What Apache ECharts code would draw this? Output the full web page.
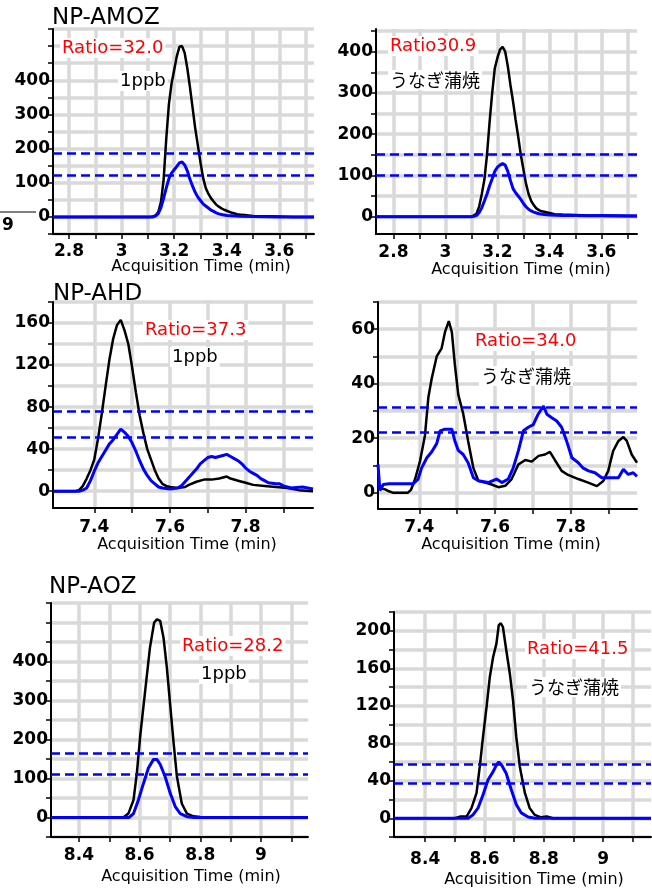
<!DOCTYPE html>
<html><head><meta charset="utf-8">
<script src="https://cdn.jsdelivr.net/npm/echarts@6/dist/echarts.min.js"></script>
<style>html,body{margin:0;padding:0;background:#fff}#c{width:652px;height:890px}</style>
</head><body><div id="c"></div>
<script>
// ---------- DATA ----------
// [time (min), abundance]
const amozStdQuant = [[2.739,0],[2.8,0],[2.9,0],[3.0,0],[3.1,0],[3.11,0],[3.12,1],[3.13,5],[3.14,15],[3.15,45],[3.16,110],[3.17,230],[3.18,330],[3.19,390],[3.20,430],[3.21,470],[3.22,498],[3.23,500],[3.24,480],[3.25,435],[3.26,380],[3.27,320],[3.28,260],[3.29,210],[3.30,160],[3.31,115],[3.32,85],[3.33,68],[3.34,55],[3.35,45],[3.36,36],[3.37,30],[3.38,25],[3.39,21],[3.40,18],[3.42,12],[3.44,8],[3.46,6],[3.50,3],[3.55,2],[3.60,1],[3.65,0],[3.732,0]];
const amozStdQual = [[2.739,0],[2.8,0],[2.9,0],[3.0,0],[3.1,0],[3.12,0],[3.13,3],[3.14,10],[3.15,28],[3.16,55],[3.17,85],[3.18,112],[3.19,128],[3.20,138],[3.21,148],[3.22,158],[3.23,161],[3.24,152],[3.25,135],[3.26,110],[3.27,90],[3.28,72],[3.29,58],[3.30,48],[3.31,38],[3.32,32],[3.33,26],[3.34,20],[3.35,16],[3.36,12],[3.37,9],[3.38,7],[3.40,4],[3.45,2],[3.50,1],[3.60,0],[3.732,0]];
const amozEelQuant = [[2.733,0],[2.8,0],[2.9,0],[3.0,0],[3.05,0],[3.10,0],[3.11,3],[3.12,8],[3.13,25],[3.14,55],[3.15,90],[3.16,150],[3.17,230],[3.18,300],[3.19,360],[3.20,385],[3.21,405],[3.22,412],[3.23,400],[3.24,365],[3.25,320],[3.26,280],[3.27,235],[3.28,194],[3.29,150],[3.30,115],[3.31,80],[3.32,55],[3.33,38],[3.34,28],[3.35,20],[3.36,16],[3.37,13],[3.38,12],[3.40,9],[3.42,6],[3.45,5],[3.50,4],[3.55,3],[3.60,2],[3.70,1],[3.737,1]];
const amozEelQual = [[2.733,0],[2.8,0],[2.9,0],[3.0,0],[3.05,0],[3.10,0],[3.11,1],[3.12,3],[3.13,10],[3.14,22],[3.15,38],[3.16,55],[3.17,75],[3.18,92],[3.19,110],[3.20,120],[3.21,125],[3.22,129],[3.23,125],[3.24,110],[3.25,88],[3.26,68],[3.27,58],[3.28,50],[3.29,42],[3.30,32],[3.31,24],[3.32,18],[3.33,14],[3.34,11],[3.35,9],[3.36,7],[3.38,5],[3.40,4],[3.45,3],[3.50,3],[3.55,2],[3.60,3],[3.70,2],[3.737,2]];
const ahdStdQuant = [[7.291,0],[7.30,0],[7.35,0],[7.36,1],[7.37,5],[7.38,12],[7.39,20],[7.40,30],[7.41,50],[7.42,74],[7.43,100],[7.44,125],[7.45,145],[7.46,158],[7.47,163],[7.48,153],[7.49,140],[7.50,118],[7.51,94],[7.52,72],[7.53,55],[7.54,40],[7.55,30],[7.56,20],[7.57,12],[7.58,7],[7.59,5],[7.60,4],[7.62,3],[7.64,4],[7.65,6],[7.67,9],[7.69,11],[7.71,11],[7.73,12],[7.75,14],[7.76,12],[7.78,10],[7.80,8],[7.82,6],[7.85,5],[7.88,4],[7.91,3],[7.94,1],[7.978,0]];
const ahdStdQual = [[7.291,0],[7.30,0],[7.35,0],[7.36,0],[7.37,1],[7.38,3],[7.39,10],[7.40,19],[7.41,27],[7.42,33],[7.43,39],[7.44,45],[7.45,49],[7.46,54],[7.47,59],[7.48,56],[7.49,52],[7.50,46],[7.51,38],[7.52,29],[7.53,21],[7.54,15],[7.55,10],[7.56,7],[7.57,4],[7.58,3],[7.60,2],[7.62,3],[7.63,5],[7.64,9],[7.65,13],[7.66,17],[7.67,21],[7.68,26],[7.69,29],[7.70,32],[7.71,33],[7.72,32],[7.73,33],[7.74,34],[7.75,35],[7.76,33],[7.77,31],[7.78,29],[7.79,26],[7.80,22],[7.81,19],[7.82,17],[7.83,15],[7.84,12],[7.85,10],[7.86,8],[7.88,7],[7.89,7],[7.90,5],[7.92,3],[7.95,4],[7.978,2]];
const ahdEelQuant = [[7.291,1.5],[7.30,1.5],[7.31,1.2],[7.32,0.5],[7.33,0],[7.37,0],[7.378,1],[7.389,5],[7.402,11.6],[7.415,21],[7.424,35],[7.433,42],[7.446,50],[7.459,53],[7.468,59],[7.478,63],[7.486,59],[7.494,47],[7.503,36],[7.516,29],[7.529,19],[7.543,9],[7.556,4.4],[7.574,3.7],[7.591,3],[7.609,2],[7.627,2.5],[7.644,5],[7.662,10.4],[7.68,12],[7.697,11.4],[7.715,13.5],[7.732,14],[7.745,15],[7.758,12],[7.776,8],[7.793,6.5],[7.82,5],[7.846,3.7],[7.869,2.4],[7.886,4.3],[7.899,8],[7.912,15.3],[7.926,19],[7.939,20.4],[7.948,19],[7.961,14],[7.975,11]];
const ahdEelQual = [[7.291,10.4],[7.296,0.8],[7.305,3],[7.32,3.3],[7.35,3.3],[7.384,3.3],[7.397,5],[7.406,9],[7.42,12.8],[7.433,15],[7.446,18],[7.455,22.7],[7.468,23.3],[7.486,23.3],[7.494,19],[7.503,15.5],[7.516,14],[7.529,11],[7.543,5.5],[7.556,4.4],[7.582,3.7],[7.604,5],[7.618,3.7],[7.635,5],[7.648,9],[7.662,15.5],[7.675,22.7],[7.688,24],[7.701,25],[7.714,28.8],[7.728,31.8],[7.737,28.8],[7.75,27.5],[7.763,26.3],[7.776,24],[7.789,19],[7.803,12.8],[7.82,11],[7.833,9],[7.847,8],[7.864,7.3],[7.882,5.5],[7.908,5.5],[7.926,5.5],[7.939,8.6],[7.952,6.7],[7.965,7.3],[7.975,6]];
const aozStdQuant = [[8.308,0],[8.4,0],[8.5,0],[8.546,0],[8.563,10],[8.58,45],[8.591,114],[8.602,209],[8.618,322],[8.634,435],[8.648,500],[8.657,508],[8.668,504],[8.679,460],[8.69,383],[8.701,287],[8.712,192],[8.723,105],[8.739,36],[8.756,10],[8.778,3],[8.8,1],[8.9,0],[9.0,0],[9.155,0]];
const aozStdQual = [[8.308,0],[8.4,0],[8.5,0],[8.565,0],[8.58,10],[8.596,45],[8.613,88],[8.629,127],[8.646,149],[8.657,149],[8.668,136],[8.684,105],[8.701,62],[8.718,27],[8.734,10],[8.756,2],[8.78,0],[9.0,0],[9.155,0]];
const aozEelQuant = [[8.295,0],[8.4,0],[8.5,0],[8.52,2],[8.54,2],[8.556,10.7],[8.573,26.7],[8.584,55],[8.595,87],[8.607,119],[8.618,151],[8.629,172],[8.64,186],[8.648,206],[8.655,208],[8.662,204],[8.673,180],[8.685,155],[8.696,126],[8.707,87],[8.719,55],[8.736,27],[8.752,11],[8.769,3.6],[8.791,1],[8.81,2],[8.83,0],[9.0,0],[9.161,0]];
const aozEelQual = [[8.295,0],[8.4,0],[8.5,0],[8.545,0],[8.561,3.6],[8.578,10.7],[8.595,25],[8.612,41],[8.629,49.7],[8.64,56.8],[8.648,60],[8.657,57],[8.673,48],[8.69,30.6],[8.707,14.6],[8.724,5.7],[8.747,1.4],[8.77,0],[9.0,0],[9.161,0]];

// tolerance window (dashed lines)
const amozStdLimits = [121, 185];
const amozEelLimits = [100, 152];
const ahdStdLimits = [51, 76];
const ahdEelLimits = [22.3, 31.5];
const aozStdLimits = [110, 166];
const aozEelLimits = [37.3, 57.6];

// tick positions and labels
const amozXTicks = [2.8,2.9,3.0,3.1,3.2,3.3,3.4,3.5,3.6,3.7];
const amozXLabels = [2.8,3.0,3.2,3.4,3.6];
const ahdXTicks = [7.4,7.5,7.6,7.7,7.8,7.9];
const ahdXLabels = [7.4,7.6,7.8];
const aozXTicks = [8.4,8.5,8.6,8.7,8.8,8.9,9.0,9.1];
const aozXLabels = [8.4,8.6,8.8,9.0];
const yTicks500 = [-50,0,50,100,150,200,250,300,350,400,450,500,550];
const yLabels400 = [0,100,200,300,400];
const yTicks180 = [0,20,40,60,80,100,120,140,160,180];
const yLabels160 = [0,40,80,120,160];
const yTicks70 = [0,10,20,30,40,50,60,70];
const yLabels60 = [0,20,40,60];
const yTicks220 = [-20,0,20,40,60,80,100,120,140,160,180,200,220];
const yLabels200 = [0,40,80,120,160,200];

const panelTitles = ['NP-AMOZ','','NP-AHD','','NP-AOZ',''];
const ratioTexts = ['Ratio=32.0','Ratio30.9','Ratio=37.3','Ratio=34.0','Ratio=28.2','Ratio=41.5'];
const sampleTexts = ['1ppb','うなぎ蒲焼','1ppb','うなぎ蒲焼','1ppb','うなぎ蒲焼'];
const xAxisTitle = 'Acquisition Time (min)';

// ---------- LAYOUT ----------
const FONT = '"DejaVu Sans", sans-serif';
const JP = '"Noto Sans CJK JP", sans-serif';
const panels = [
  {g:[53,29,261,205], x:[2.739,3.732], y:[-50,550], xt:amozXTicks, xl:amozXLabels, yt:yTicks500, yl:yLabels400, q:amozStdQuant, b:amozStdQual, lim:amozStdLimits, xm:9},
  {g:[376,29,261,205], x:[2.733,3.737], y:[-42,455], xt:amozXTicks, xl:amozXLabels, yt:yTicks500, yl:yLabels400, q:amozEelQuant, b:amozEelQual, lim:amozEelLimits, xm:10},
  {g:[53,302,260,206], x:[7.291,7.978], y:[-16,180], xt:ahdXTicks, xl:ahdXLabels, yt:yTicks180, yl:yLabels160, q:ahdStdQuant, b:ahdStdQual, lim:ahdStdLimits, xm:11},
  {g:[378,302,259,207], x:[7.291,7.975], y:[-6,70], xt:ahdXTicks, xl:ahdXLabels, yt:yTicks70, yl:yLabels60, q:ahdEelQuant, b:ahdEelQual, lim:ahdEelLimits, xm:10},
  {g:[51,603,257,234], x:[8.308,9.155], y:[-50,550], xt:aozXTicks, xl:aozXLabels, yt:yTicks500, yl:yLabels400, q:aozStdQuant, b:aozStdQual, lim:aozStdLimits, xm:10},
  {g:[394,612,257,225], x:[8.295,9.161], y:[-20,220], xt:aozXTicks, xl:aozXLabels, yt:yTicks220, yl:yLabels200, q:aozEelQuant, b:aozEelQual, lim:aozEelLimits, xm:14}
];
// text positions: title[x,y], ratio[x,y], sample[x,y], axis title center[x,y]
const textPos = [
  {t:[52,18], r:[60,48], s:[118,81], a:[201,267]},
  {t:null, r:[388,46], s:[388,80], a:[521,270]},
  {t:[53,294], r:[143,330], s:[170,357], a:[187,545]},
  {t:null, r:[473,341], s:[479,376], a:[511,545]},
  {t:[49,587], r:[180,646], s:[199,674], a:[191,877]},
  {t:null, r:[525,649], s:[527,687], a:[534,880]}
];

const fmt = v => String(+(+v).toFixed(2));
const grids=[], xAxes=[], yAxes=[], series=[], graphics=[];
panels.forEach((p,i)=>{
  grids.push({left:p.g[0], top:p.g[1], width:p.g[2], height:p.g[3], containLabel:false, outerBoundsMode:'none'});
  xAxes.push({type:'value', gridIndex:i, min:p.x[0], max:p.x[1],
    axisLine:{show:true,onZero:false,lineStyle:{color:'#000',width:2}},
    axisTick:{show:true,length:5,customValues:p.xt,lineStyle:{color:'#000',width:1.5}},
    axisLabel:{show:true,customValues:p.xl,margin:p.xm,fontSize:17,fontWeight:'bold',color:'#000',fontFamily:FONT,formatter:fmt,hideOverlap:false},
    splitLine:{show:true,lineStyle:{color:'#d9d9d9',width:3.5}}});
  yAxes.push({type:'value', gridIndex:i, min:p.y[0], max:p.y[1],
    axisLine:{show:true,onZero:false,lineStyle:{color:'#000',width:2}},
    axisTick:{show:true,length:5,customValues:p.yt,lineStyle:{color:'#000',width:1.5}},
    axisLabel:{show:true,customValues:p.yl,margin:3,fontSize:17,fontWeight:'bold',color:'#000',fontFamily:FONT,formatter:fmt,hideOverlap:false},
    splitLine:{show:true,lineStyle:{color:'#d9d9d9',width:3.5}}});
  series.push({type:'line', xAxisIndex:i, yAxisIndex:i, data:p.q, symbol:'none', smooth:false,
    lineStyle:{color:'#000',width:2.5}, z:3, animation:false});
  series.push({type:'line', xAxisIndex:i, yAxisIndex:i, data:p.b, symbol:'none', smooth:false,
    lineStyle:{color:'#0000ff',width:3}, z:4, animation:false,
    markLine:{silent:true, symbol:'none', label:{show:false}, animation:false,
      lineStyle:{color:'#0000ff',width:2.5,type:[9,5]},
      data:p.lim.map(v=>({yAxis:v}))}});
  const tp = textPos[i];
  if (tp.t) graphics.push({type:'text', x:tp.t[0], y:tp.t[1], z:100,
    style:{text:panelTitles[i], font:'23px '+FONT, fill:'#000', align:'left', verticalAlign:'middle'}});
  graphics.push({type:'text', x:tp.r[0], y:tp.r[1], z:100,
    style:{text:ratioTexts[i], font:'18px '+FONT, fill:'#ff0000', align:'left', verticalAlign:'middle', backgroundColor:'#fff', padding:[1,2]}});
  graphics.push({type:'text', x:tp.s[0], y:tp.s[1], z:100,
    style:{text:sampleTexts[i], font:'18px '+(i%2? JP: FONT), fill:'#000', align:'left', verticalAlign:'middle', backgroundColor:'#fff', padding:[1,2]}});
  graphics.push({type:'text', x:tp.a[0], y:tp.a[1], z:100,
    style:{text:xAxisTitle, font:'16px '+FONT, fill:'#000', align:'center', verticalAlign:'middle'}});
});
// stray fragment at left edge of first panel
graphics.push({type:'line', z:100, shape:{x1:0,y1:212,x2:36,y2:212}, style:{stroke:'#000',lineWidth:1}});
graphics.push({type:'text', x:2, y:226, z:100, style:{text:'9', font:'bold 17px '+FONT, fill:'#000', align:'left', verticalAlign:'middle'}});

const chart = echarts.init(document.getElementById('c'), null, {renderer:'canvas'});
chart.setOption({animation:false, backgroundColor:'#fff', grid:grids, xAxis:xAxes, yAxis:yAxes, series:series, graphic:graphics});
</script></body></html>
